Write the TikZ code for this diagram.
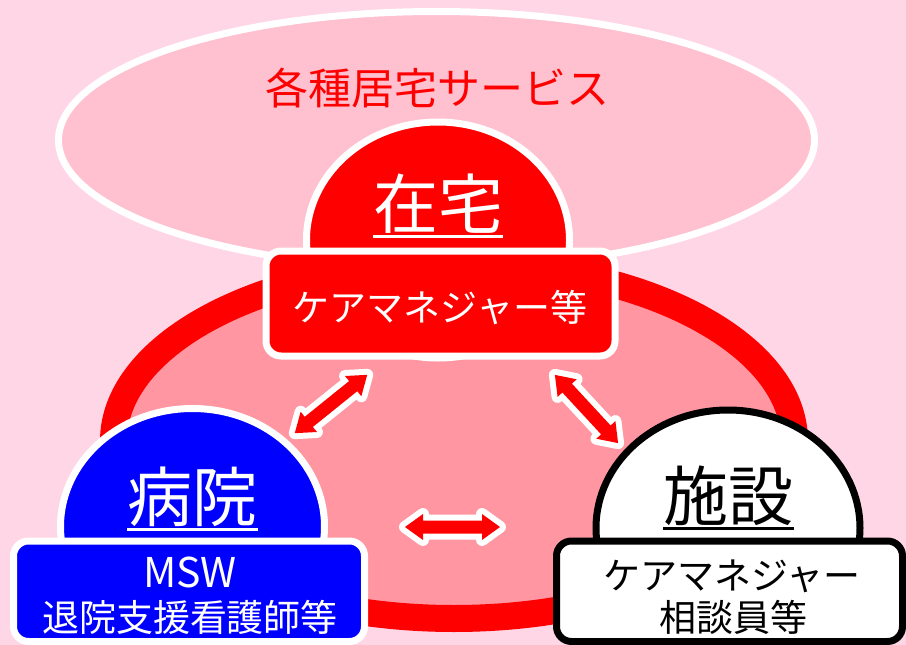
\documentclass[tikz,border=0pt]{standalone}
\usepackage{fontspec}
\setmainfont{Noto Sans CJK JP}
\definecolor{bgpink}{RGB}{255,214,230}
\definecolor{ellpink}{RGB}{255,192,208}
\definecolor{ringpink}{RGB}{255,150,162}
\definecolor{pred}{RGB}{255,0,0}
\definecolor{pblue}{RGB}{0,0,255}
\newcommand\drawfatarrow[3]{%
  \pgfmathsetmacro\halflen{#3/2}%
  \pgfmathsetmacro\halfback{#3/2-18}%
  \begin{scope}[shift={#1}, rotate=#2]
    \path[arrowfill] (-\halflen,0) -- (-\halfback,13) -- (-\halfback,6.5) -- (\halfback,6.5)
      -- (\halfback,13) -- (\halflen,0) -- (\halfback,-13) -- (\halfback,-6.5)
      -- (-\halfback,-6.5) -- (-\halfback,-13) -- cycle;
  \end{scope}}
\begin{document}
\begin{tikzpicture}[x=1pt,y=-1pt,
  borderw/.style={line width=7pt},
  infobox/.style={rounded corners=15pt, line width=7pt},
  bigtitle/.style={font=\fontsize{65}{70}\selectfont, anchor=base, inner sep=0pt},
  stafftext/.style={font=\fontsize{37}{40}\selectfont, anchor=base, inner sep=0pt},
  uline/.style={line width=3.5pt},
  arrowfill/.style={fill=pred, preaction={draw=white, line width=12pt, line join=round}}
]
\useasboundingbox (0,0) rectangle (906,645);
\clip (0,0) rectangle (906,645);
\fill[bgpink] (0,0) rectangle (906,645);

% top ellipse
\draw[borderw, white, fill=ellpink] (436.5,140) ellipse [x radius=378, y radius=128.5];
\node[stafftext, font=\fontsize{43}{45}\selectfont, text=pred] (service) at (437,104) {各種居宅サービス};

% ring
\draw[pred, line width=27pt, fill=ringpink] (454,441) ellipse [x radius=340.5, y radius=177.5];

% zaitaku
\draw[borderw, white, fill=pred] (438,240) ellipse [x radius=131.5, y radius=118];
\node[bigtitle, text=white] (zaitaku) at (438,228) {在宅};
\draw[uline, white] ([yshift=-8.5pt]zaitaku.base west) -- ([yshift=-8.5pt]zaitaku.base east);
\draw[infobox, white, fill=pred] (266,251) rectangle (615,356);
\node[stafftext, text=white] (zaitakustaff) at (440,321) {ケアマネジャー等};

% byoin
\draw[borderw, white, fill=pblue] (192.5,526.5) ellipse [x radius=132, y radius=118];
\node[bigtitle, text=white] (byoin) at (192.5,521) {病院};
\draw[uline, white] ([yshift=-8.5pt]byoin.base west) -- ([yshift=-8.5pt]byoin.base east);
\draw[infobox, white, fill=pblue] (13.5,541) rectangle (364.5,641.5);
\node[stafftext, font=\fontsize{41}{44}\selectfont, text=white] (msw) at (190,587.5) {MSW};
\node[stafftext, text=white] (byoinstaff) at (190,631) {退院支援看護師等};

% shisetsu
\draw[borderw, black, fill=white] (728,528) ellipse [x radius=132, y radius=118];
\node[bigtitle, text=black] (shisetsu) at (728.5,520) {施設};
\draw[uline, black] ([yshift=-8.5pt]shisetsu.base west) -- ([yshift=-8.5pt]shisetsu.base east);
\draw[infobox, black, fill=white] (556.5,541) rectangle (902.5,641.5);
\node[stafftext, text=black] (sstaffa) at (732,589) {ケアマネジャー};
\node[stafftext, text=black] (sstaffb) at (733,631) {相談員等};

% arrows
\drawfatarrow{(331,404)}{38.85}{93}
\drawfatarrow{(586.5,409)}{-47.2}{93}
\drawfatarrow{(452.5,527)}{0}{95}
\end{tikzpicture}
\end{document}
